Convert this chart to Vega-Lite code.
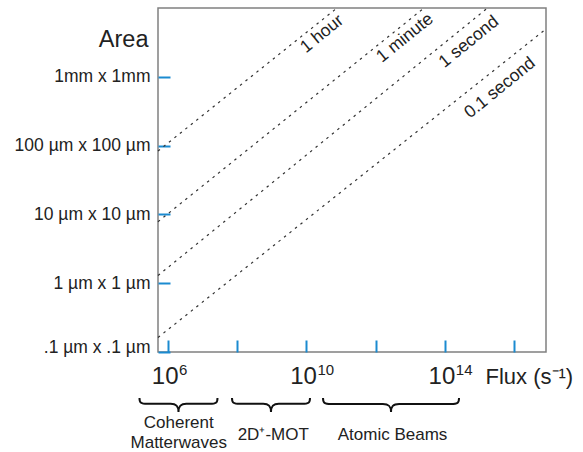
{
  "$schema": "https://vega.github.io/schema/vega-lite/v6.json",
  "width": 388,
  "height": 344,
  "autosize": {"type": "none"},
  "padding": {"left": 158, "top": 8, "right": 37, "bottom": 100},
  "config": {
    "view": {"stroke": "#808080", "strokeWidth": 1.5},
    "font": "Liberation Sans",
    "axis": {"grid": false, "domain": false}
  },
  "layer": [
    {
      "data": {"values": [
        {"duration": "1 hour", "flux": 5.14e5, "area": 6966},
        {"duration": "1 hour", "flux": 7.66e10, "area": 1e8},
        {"duration": "1 minute", "flux": 5.14e5, "area": 61.4},
        {"duration": "1 minute", "flux": 2.506e13, "area": 1e8},
        {"duration": "1 second", "flux": 5.14e5, "area": 1.675},
        {"duration": "1 second", "flux": 1.714e15, "area": 1e8},
        {"duration": "0.1 second", "flux": 5.14e5, "area": 0.0264},
        {"duration": "0.1 second", "flux": 8.41e16, "area": 2.455e7}
      ]},
      "mark": {"type": "line", "strokeDash": [2.5, 4.5], "color": "#333333", "strokeWidth": 1.2},
      "encoding": {
        "x": {
          "field": "flux", "type": "quantitative",
          "scale": {"type": "log", "domain": [5.14e5, 8.41e16], "nice": false},
          "axis": {
            "values": [1e6, 1e8, 1e10, 1e12, 1e14, 1e16],
            "labelExpr": "datum.value == 1e6 || datum.value == 1e10 || datum.value == 1e14 ? '10' : ''",
            "tickSize": -12, "tickColor": "#1b8bd0", "tickWidth": 2,
            "labelPadding": 43, "labelBaseline": "alphabetic", "labelAlign": "right", "labelOffset": 10,
            "labelFontSize": 24,
            "labelColor": "#222222", "labelOverlap": false, "labelFlush": false,
            "title": "Flux (s⁻¹)", "titleX": 327, "titleY": 31.3, "titleAlign": "left",
            "titleBaseline": "alphabetic", "titleFontSize": 22, "titleFontWeight": "normal",
            "titleColor": "#222222"
          }
        },
        "y": {
          "field": "area", "type": "quantitative",
          "scale": {"type": "log", "domain": [0.01, 1e8], "nice": false},
          "axis": {
            "values": [0.01, 1, 100, 10000, 1000000],
            "labelExpr": "datum.value < 0.05 ? '.1 µm x .1 µm' : datum.value < 5 ? '1 µm x 1 µm' : datum.value < 500 ? '10 µm x 10 µm' : datum.value < 50000 ? '100 µm x 100 µm' : '1mm x 1mm'",
            "tickSize": -12, "tickColor": "#1b8bd0", "tickWidth": 2,
            "labelPadding": 20, "labelFontSize": 17.5, "labelColor": "#222222",
            "labelOverlap": false, "labelFlush": false,
            "labelBaseline": {"condition": {"test": "datum.value < 0.05", "value": "alphabetic"}, "value": "middle"},
            "title": "Area", "titleAngle": 0, "titleX": -10, "titleY": 38.7,
            "titleAlign": "right", "titleBaseline": "alphabetic", "titleFontSize": 23.5,
            "titleFontWeight": "normal", "titleColor": "#222222"
          }
        },
        "detail": {"field": "duration"}
      }
    },
    {
      "data": {"values": [
        {"duration": "1 hour", "flux": 2.83e10, "area": 1.75e7},
        {"duration": "1 minute", "flux": 7.08e12, "area": 1.34e7},
        {"duration": "1 second", "flux": 5.0e14, "area": 1.03e7},
        {"duration": "0.1 second", "flux": 3.94e15, "area": 4.72e5}
      ]},
      "mark": {"type": "text", "angle": -39, "align": "center", "baseline": "middle", "fontSize": 17.5, "color": "#222222"},
      "encoding": {
        "x": {"field": "flux", "type": "quantitative"},
        "y": {"field": "area", "type": "quantitative"},
        "text": {"field": "duration"}
      }
    },
    {
      "data": {"values": [
        {"exponent": "6", "flux": 1e6, "area": 2.14e-3},
        {"exponent": "10", "flux": 1e10, "area": 2.14e-3},
        {"exponent": "14", "flux": 1e14, "area": 2.14e-3}
      ]},
      "mark": {"type": "text", "align": "left", "baseline": "alphabetic", "dx": 11, "fontSize": 15, "color": "#222222"},
      "encoding": {
        "x": {"field": "flux", "type": "quantitative"},
        "y": {"field": "area", "type": "quantitative"},
        "text": {"field": "exponent"}
      }
    },
    {
      "data": {"values": [
        {"group": "Coherent Matterwaves", "flux": 2.01e6, "area": 2.88e-4},
        {"group": "2D+-MOT", "flux": 9.48e8, "area": 2.88e-4}
      ]},
      "mark": {"type": "point", "filled": false, "stroke": "#111111", "strokeWidth": 2, "opacity": 1, "size": 6084,
        "shape": "M -1 -0.18 C -1 -0.05 -0.96 -0.03 -0.8 -0.03 L -0.2 -0.03 C -0.05 -0.03 0 0.03 0 0.18 C 0 0.03 0.05 -0.03 0.2 -0.03 L 0.8 -0.03 C 0.96 -0.03 1 -0.05 1 -0.18"},
      "encoding": {
        "x": {"field": "flux", "type": "quantitative"},
        "y": {"field": "area", "type": "quantitative"}
      }
    },
    {
      "data": {"values": [
        {"group": "Atomic Beams", "flux": 2.79e12, "area": 2.88e-4}
      ]},
      "mark": {"type": "point", "filled": false, "stroke": "#111111", "strokeWidth": 2, "opacity": 1, "size": 18496,
        "shape": "M -1 -0.103 C -1 -0.03 -0.98 -0.015 -0.88 -0.015 L -0.12 -0.015 C -0.03 -0.015 0 0.02 0 0.103 C 0 0.02 0.03 -0.015 0.12 -0.015 L 0.88 -0.015 C 0.98 -0.015 1 -0.03 1 -0.103"},
      "encoding": {
        "x": {"field": "flux", "type": "quantitative"},
        "y": {"field": "area", "type": "quantitative"}
      }
    },
    {
      "data": {"values": [
        {"group": "Coherent\nMatterwaves", "flux": 2.04e6, "area": 6.16e-5},
        {"group": "2D⁺-MOT", "flux": 1.10e9, "area": 2.77e-5},
        {"group": "Atomic Beams", "flux": 3.08e12, "area": 2.77e-5}
      ]},
      "mark": {"type": "text", "align": "center", "baseline": "alphabetic", "fontSize": 17, "lineBreak": "\n", "lineHeight": 20, "color": "#222222"},
      "encoding": {
        "x": {"field": "flux", "type": "quantitative"},
        "y": {"field": "area", "type": "quantitative"},
        "text": {"field": "group"}
      }
    }
  ]
}
